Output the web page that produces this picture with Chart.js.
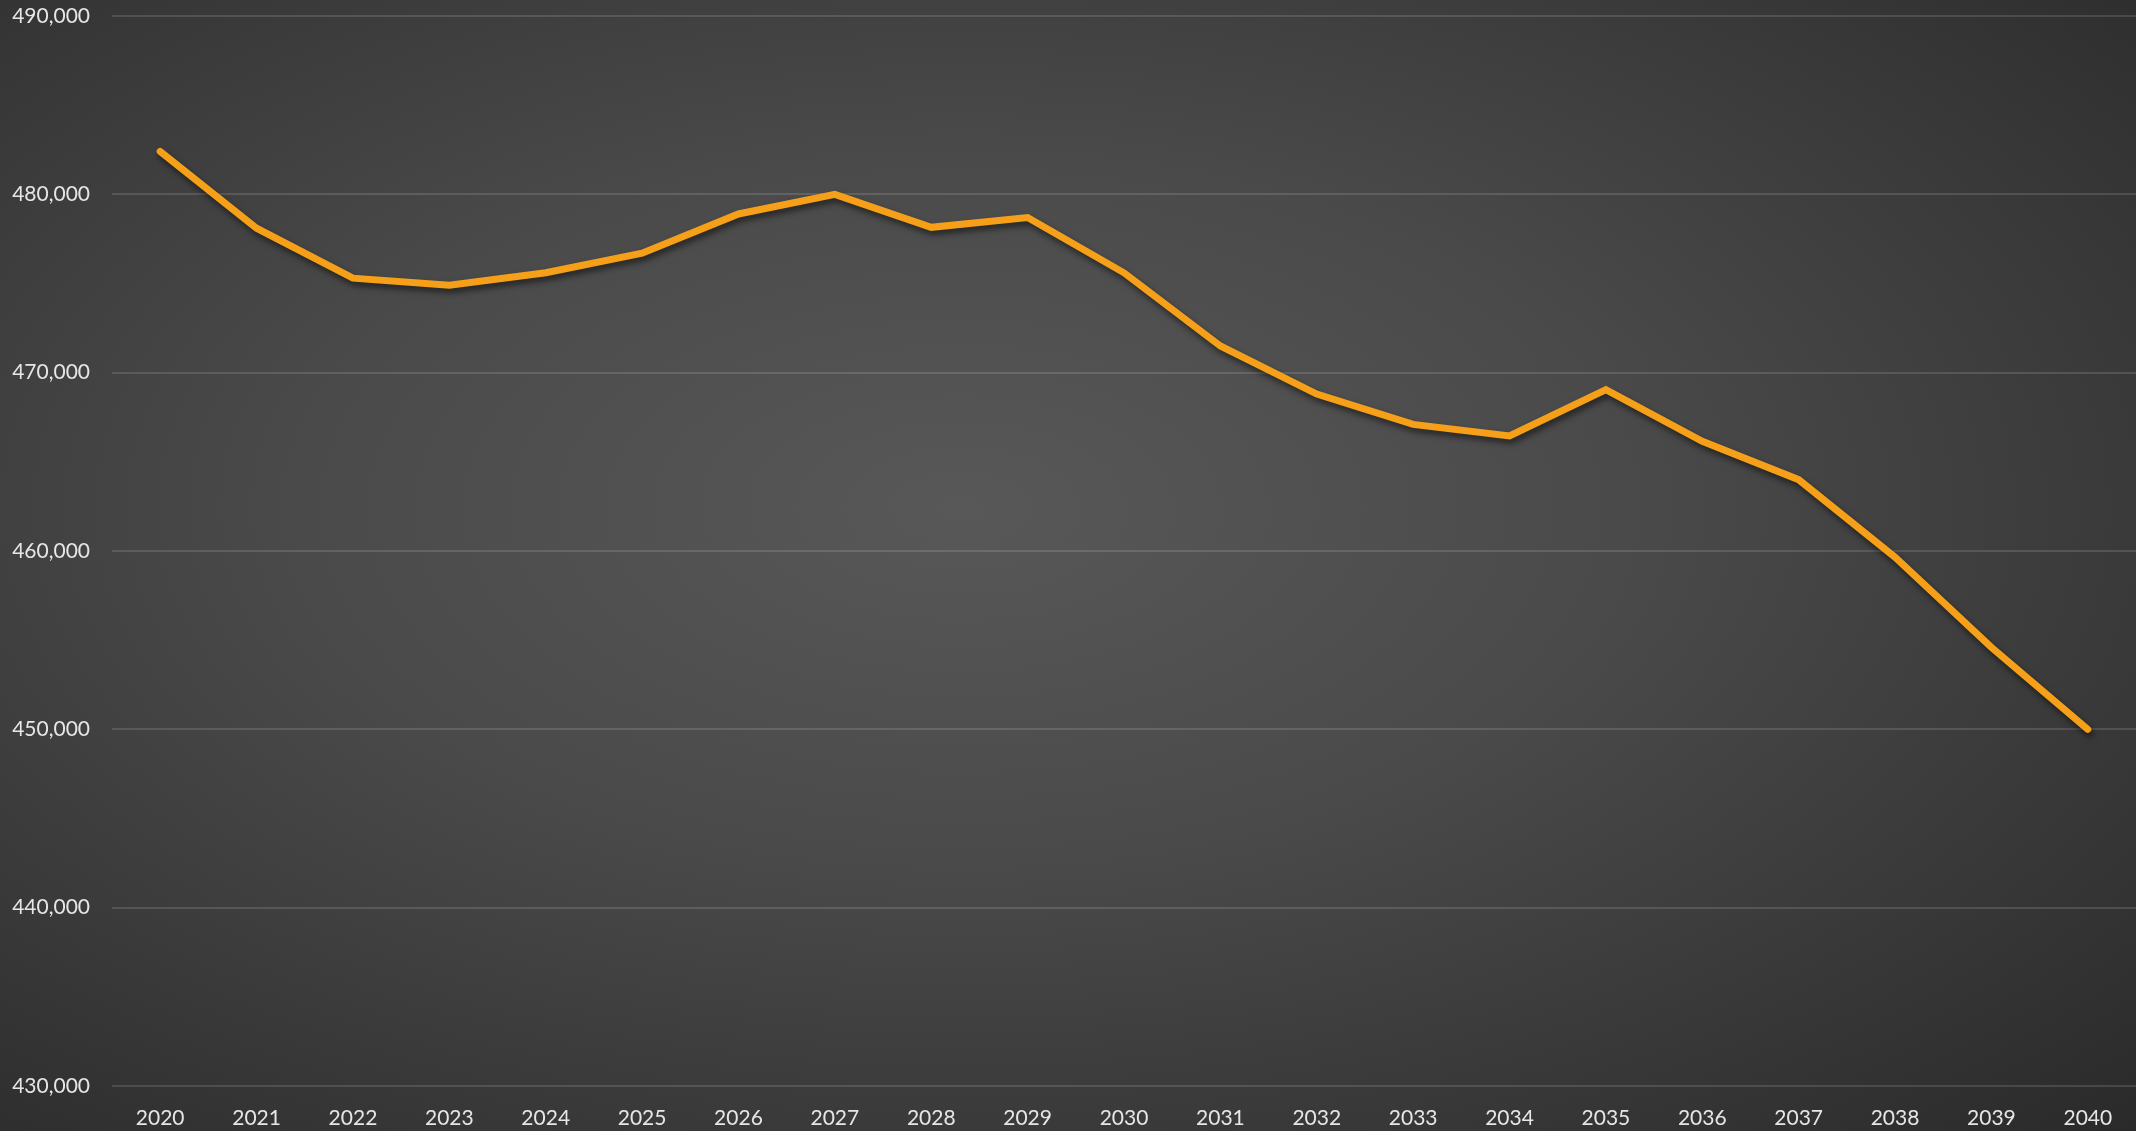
<!DOCTYPE html>
<html>
<head>
<meta charset="utf-8">
<script src="https://cdn.jsdelivr.net/npm/chart.js@4.4.0/dist/chart.umd.min.js"></script>
<style>
  html, body {
    margin: 0;
    padding: 0;
  }
  body {
    width: 2136px;
    height: 1131px;
    overflow: hidden;
    background: radial-gradient(ellipse at 45% 45%, #585858 0%, #4a4a4a 40%, #2a2a2a 100%);
  }
  #wrap {
    position: relative;
    width: 2136px;
    height: 1131px;
  }
</style>
</head>
<body>
<div id="wrap">
  <canvas id="lineChart"></canvas>
</div>
<script>
  // Data
  const years = ['2020', '2021', '2022', '2023', '2024', '2025', '2026', '2027', '2028', '2029', '2030',
    '2031', '2032', '2033', '2034', '2035', '2036', '2037', '2038', '2039', '2040'];
  const population = [482400, 478100, 475300, 474900, 475600, 476700, 478900, 480000, 478150, 478700, 475600,
    471500, 468800, 467100, 466450, 469050, 466150, 464000, 459650, 454600, 450000];
  const yMin = 430000;
  const yMax = 490000;
  const yStep = 10000;

  // Soft drop shadow under the line
  const lineShadow = {
    id: 'lineShadow',
    beforeDatasetsDraw(chart) {
      const c = chart.ctx;
      c.save();
      c.shadowColor = 'rgba(0, 0, 0, 0.55)';
      c.shadowBlur = 6;
      c.shadowOffsetX = 2;
      c.shadowOffsetY = 4;
    },
    afterDatasetsDraw(chart) {
      chart.ctx.restore();
    }
  };

  const ctx = document.getElementById('lineChart').getContext('2d');
  const lineChart = new Chart(ctx, {
    type: 'line',
    data: {
      labels: years,
      datasets: [{
        label: 'Population',
        data: population,
        borderColor: '#F6A01A',
        borderWidth: 7,
        borderCapStyle: 'round',
        borderJoinStyle: 'miter',
        pointRadius: 0,
        pointHoverRadius: 0,
        tension: 0,
        fill: false
      }]
    },
    plugins: [lineShadow],
    options: {
      responsive: true,
      maintainAspectRatio: false,
      animation: false,
      layout: {
        padding: { top: 16, right: 0, bottom: 0, left: 0 }
      },
      plugins: {
        legend: { display: false },
        tooltip: { enabled: false }
      },
      scales: {
        x: {
          offset: true,
          grid: { display: false, drawTicks: false },
          border: { display: false },
          ticks: {
            color: '#e6e6e6',
            font: { family: 'Lato', size: 21 },
            padding: 20,
            maxRotation: 0,
            autoSkip: false
          },
          afterFit: (scale) => { scale.height = 45; }
        },
        y: {
          min: yMin,
          max: yMax,
          grid: {
            color: 'rgba(255, 255, 255, 0.13)',
            lineWidth: 2,
            drawTicks: false
          },
          border: { display: false },
          ticks: {
            stepSize: yStep,
            color: '#e6e6e6',
            font: { family: 'Lato', size: 21 },
            padding: 22,
            callback: (v) => v.toLocaleString('en-US')
          },
          afterFit: (scale) => {
            scale.width = 112;
            scale.paddingTop = 0;
            scale.paddingBottom = 0;
          }
        }
      }
    }
  });
</script>
</body>
</html>
